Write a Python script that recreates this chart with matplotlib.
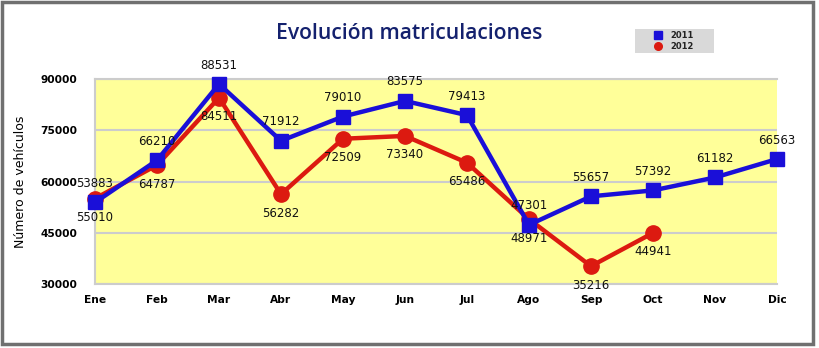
import matplotlib.pyplot as plt
from matplotlib.patches import Rectangle

meses = ['Ene', 'Feb', 'Mar', 'Abr', 'May', 'Jun', 'Jul', 'Ago', 'Sep', 'Oct', 'Nov', 'Dic']
v2011 = [53883, 66210, 88531, 71912, 79010, 83575, 79413, 47301, 55657, 57392, 61182, 66563]
v2012 = [55010, 64787, 84511, 56282, 72509, 73340, 65486, 48971, 35216, 44941]
yticks = [30000, 45000, 60000, 75000, 90000]

azul = '#1a0fd8'
rojo = '#dc1a10'

fig = plt.figure(figsize=(8.19, 3.48), dpi=100)
fig.patch.set_facecolor('white')
# marco gris exterior
fig.patches.append(Rectangle((2 / 819, 4 / 348), 811 / 819, 342 / 348, transform=fig.transFigure,
                             fill=False, edgecolor='#707070', linewidth=2.5))
# fondo de la leyenda
fig.patches.append(Rectangle((635 / 819, 1 - 53 / 348), 79 / 819, 24 / 348, transform=fig.transFigure,
                             facecolor='#d9d9d9', edgecolor='none'))

ax = fig.add_axes([95 / 819, 64 / 348, 682 / 819, 205 / 348])
ax.set_facecolor('#ffff99')
x1 = list(range(len(v2011)))
x2 = list(range(len(v2012)))
ax.plot(x1, v2011, color=azul, lw=3.2, marker='s', ms=9.5, clip_on=False, zorder=4, label='2011')
ax.plot(x2, v2012, color=rojo, lw=3.2, marker='o', ms=11, clip_on=False, zorder=3, label='2012')

for i, v in enumerate(v2011):
    ax.annotate(str(v), (i, v), xytext=(0, 9), textcoords='offset points', ha='center', va='bottom',
                fontsize=8.5, color='#111111', zorder=6)
for i, v in enumerate(v2012):
    ax.annotate(str(v), (i, v), xytext=(0, -9), textcoords='offset points', ha='center', va='top',
                fontsize=8.5, color='#111111', zorder=6)

ax.set_xlim(0, 11)
ax.set_ylim(30000, 90000)
ax.set_xticks(x1)
ax.set_xticklabels(meses, fontweight='bold', fontsize=7.7)
ax.set_yticks(yticks)
ax.set_yticklabels([str(t) for t in yticks], fontweight='bold', fontsize=7.7)
ax.tick_params(length=0, pad=8)
ax.tick_params(axis='y', pad=13)
ax.grid(axis='y', color='#cccccc', lw=1.5)
ax.set_axisbelow(True)
for s in ax.spines.values():
    s.set_color('#cccccc')
    s.set_linewidth(1.5)
ax.spines['right'].set_visible(False)
ax.set_ylabel('Número de vehículos', fontsize=9, labelpad=9)

fig.text(0.5, 0.903, 'Evolución matriculaciones', ha='center', va='center',
         fontsize=15.2, color='#14216e', family='Open Sans', fontweight='semibold')

leg = fig.legend(loc='center left', bbox_to_anchor=(651 / 819, 1 - 41 / 348), frameon=False,
                 handlelength=1.6, handletextpad=0.7, borderpad=0, borderaxespad=0, labelspacing=0.25,
                 prop={'weight': 'bold', 'size': 6})
for h in leg.legend_handles:
    h.set_linestyle('none')
    h.set_markersize(5.5)
for t in leg.get_texts():
    t.set_color('#222222')

fig.savefig('out.png', dpi=100)
